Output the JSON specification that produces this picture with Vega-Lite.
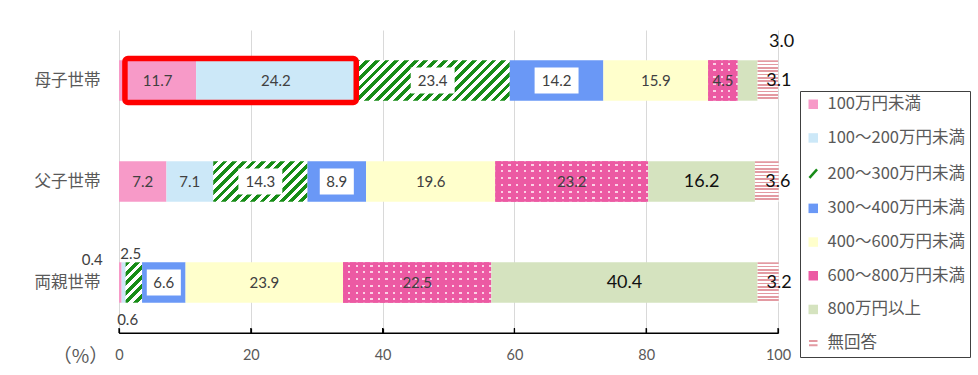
{
  "$schema": "https://vega.github.io/schema/vega-lite/v6.json",
  "width": 659,
  "height": 303,
  "autosize": "none",
  "padding": {"left": 119, "top": 30, "right": 200, "bottom": 42},
  "background": "white",
  "config": {
    "view": {"stroke": null},
    "font": "Noto Sans CJK JP"
  },
  "datasets": {
    "income": [
      {"row": "母子世帯", "cat": "100万円未満", "value": 11.7},
      {"row": "母子世帯", "cat": "100～200万円未満", "value": 24.2},
      {"row": "母子世帯", "cat": "200～300万円未満", "value": 23.4},
      {"row": "母子世帯", "cat": "300～400万円未満", "value": 14.2},
      {"row": "母子世帯", "cat": "400～600万円未満", "value": 15.9},
      {"row": "母子世帯", "cat": "600～800万円未満", "value": 4.5},
      {"row": "母子世帯", "cat": "800万円以上", "value": 3.0},
      {"row": "母子世帯", "cat": "無回答", "value": 3.1},
      {"row": "父子世帯", "cat": "100万円未満", "value": 7.2},
      {"row": "父子世帯", "cat": "100～200万円未満", "value": 7.1},
      {"row": "父子世帯", "cat": "200～300万円未満", "value": 14.3},
      {"row": "父子世帯", "cat": "300～400万円未満", "value": 8.9},
      {"row": "父子世帯", "cat": "400～600万円未満", "value": 19.6},
      {"row": "父子世帯", "cat": "600～800万円未満", "value": 23.2},
      {"row": "父子世帯", "cat": "800万円以上", "value": 16.2},
      {"row": "父子世帯", "cat": "無回答", "value": 3.6},
      {"row": "両親世帯", "cat": "100万円未満", "value": 0.4},
      {"row": "両親世帯", "cat": "100～200万円未満", "value": 0.6},
      {"row": "両親世帯", "cat": "200～300万円未満", "value": 2.5},
      {"row": "両親世帯", "cat": "300～400万円未満", "value": 6.6},
      {"row": "両親世帯", "cat": "400～600万円未満", "value": 23.9},
      {"row": "両親世帯", "cat": "600～800万円未満", "value": 22.5},
      {"row": "両親世帯", "cat": "800万円以上", "value": 40.4},
      {"row": "両親世帯", "cat": "無回答", "value": 3.2}
    ],
    "highlight": [
      {"row": "母子世帯", "from": 0.9, "to": 36.0}
    ],
    "baseline": [
      {"start": 0, "end": 100}
    ],
    "tickmarks": [
      {"t": 0}, {"t": 20}, {"t": 40}, {"t": 60}, {"t": 80}, {"t": 100}
    ]
  },
  "encoding": {
    "y": {
      "field": "row",
      "type": "nominal",
      "sort": ["母子世帯", "父子世帯", "両親世帯"],
      "scale": {"paddingInner": 0.6, "paddingOuter": 0.3},
      "axis": {
        "title": null,
        "domain": false,
        "ticks": false,
        "grid": false,
        "labelFont": "Noto Sans CJK JP",
        "labelFontSize": 16.5,
        "labelColor": "#595959",
        "labelPadding": 19
      }
    }
  },
  "layer": [
    {
      "data": {"name": "income"},
      "transform": [
        {"stack": "value", "groupby": ["row"], "as": ["x0", "x1"]},
        {"calculate": "(datum.x0 + datum.x1) / 2", "as": "mid"}
      ],
      "layer": [
        {
          "mark": {"type": "bar"},
          "encoding": {
            "x": {
              "field": "x0",
              "type": "quantitative",
              "scale": {"domain": [0, 100], "nice": false},
              "axis": {
                "values": [0, 20, 40, 60, 80, 100],
                "grid": true,
                "gridColor": "#d9d9d9",
                "gridWidth": 1,
                "domain": true,
                "domainColor": "#000000",
                "domainWidth": 1.2,
                "ticks": true,
                "tickColor": "#000000",
                "tickWidth": 1.2,
                "tickSize": -5,
                "labelFont": "Lato",
                "labelFontSize": 14.5,
                "labelColor": "#595959",
                "labelPadding": 20,
                "labelFlush": false,
                "title": "（%）",
                "titleFont": "Noto Sans CJK JP",
                "titleFontSize": 19,
                "titleFontWeight": "normal",
                "titleColor": "#595959",
                "titleX": -39,
                "titleY": 23,
                "titleAlign": "center",
                "titleBaseline": "middle",
                "titleAngle": 0
              }
            },
            "x2": {"field": "x1"},
            "fill": {
              "condition": [
                {
                  "test": "datum.cat === '200～300万円未満' && datum.row === '母子世帯'",
                  "value": {
                    "gradient": "linear", "x1": 0, "y1": 0, "x2": 1.1809, "y2": 0.3094,
                    "stops": [
                      {"offset": 0, "color": "#178c17"}, {"offset": 0.025, "color": "#178c17"}, {"offset": 0.025, "color": "#ffffff"}, {"offset": 0.05, "color": "#ffffff"},
                      {"offset": 0.05, "color": "#178c17"}, {"offset": 0.075, "color": "#178c17"}, {"offset": 0.075, "color": "#ffffff"}, {"offset": 0.1, "color": "#ffffff"},
                      {"offset": 0.1, "color": "#178c17"}, {"offset": 0.125, "color": "#178c17"}, {"offset": 0.125, "color": "#ffffff"}, {"offset": 0.15, "color": "#ffffff"},
                      {"offset": 0.15, "color": "#178c17"}, {"offset": 0.175, "color": "#178c17"}, {"offset": 0.175, "color": "#ffffff"}, {"offset": 0.2, "color": "#ffffff"},
                      {"offset": 0.2, "color": "#178c17"}, {"offset": 0.225, "color": "#178c17"}, {"offset": 0.225, "color": "#ffffff"}, {"offset": 0.25, "color": "#ffffff"},
                      {"offset": 0.25, "color": "#178c17"}, {"offset": 0.275, "color": "#178c17"}, {"offset": 0.275, "color": "#ffffff"}, {"offset": 0.3, "color": "#ffffff"},
                      {"offset": 0.3, "color": "#178c17"}, {"offset": 0.325, "color": "#178c17"}, {"offset": 0.325, "color": "#ffffff"}, {"offset": 0.35, "color": "#ffffff"},
                      {"offset": 0.35, "color": "#178c17"}, {"offset": 0.375, "color": "#178c17"}, {"offset": 0.375, "color": "#ffffff"}, {"offset": 0.4, "color": "#ffffff"},
                      {"offset": 0.4, "color": "#178c17"}, {"offset": 0.425, "color": "#178c17"}, {"offset": 0.425, "color": "#ffffff"}, {"offset": 0.45, "color": "#ffffff"},
                      {"offset": 0.45, "color": "#178c17"}, {"offset": 0.475, "color": "#178c17"}, {"offset": 0.475, "color": "#ffffff"}, {"offset": 0.5, "color": "#ffffff"},
                      {"offset": 0.5, "color": "#178c17"}, {"offset": 0.525, "color": "#178c17"}, {"offset": 0.525, "color": "#ffffff"}, {"offset": 0.55, "color": "#ffffff"},
                      {"offset": 0.55, "color": "#178c17"}, {"offset": 0.575, "color": "#178c17"}, {"offset": 0.575, "color": "#ffffff"}, {"offset": 0.6, "color": "#ffffff"},
                      {"offset": 0.6, "color": "#178c17"}, {"offset": 0.625, "color": "#178c17"}, {"offset": 0.625, "color": "#ffffff"}, {"offset": 0.65, "color": "#ffffff"},
                      {"offset": 0.65, "color": "#178c17"}, {"offset": 0.675, "color": "#178c17"}, {"offset": 0.675, "color": "#ffffff"}, {"offset": 0.7, "color": "#ffffff"},
                      {"offset": 0.7, "color": "#178c17"}, {"offset": 0.725, "color": "#178c17"}, {"offset": 0.725, "color": "#ffffff"}, {"offset": 0.75, "color": "#ffffff"},
                      {"offset": 0.75, "color": "#178c17"}, {"offset": 0.775, "color": "#178c17"}, {"offset": 0.775, "color": "#ffffff"}, {"offset": 0.8, "color": "#ffffff"},
                      {"offset": 0.8, "color": "#178c17"}, {"offset": 0.825, "color": "#178c17"}, {"offset": 0.825, "color": "#ffffff"}, {"offset": 0.85, "color": "#ffffff"},
                      {"offset": 0.85, "color": "#178c17"}, {"offset": 0.875, "color": "#178c17"}, {"offset": 0.875, "color": "#ffffff"}, {"offset": 0.9, "color": "#ffffff"},
                      {"offset": 0.9, "color": "#178c17"}, {"offset": 0.925, "color": "#178c17"}, {"offset": 0.925, "color": "#ffffff"}, {"offset": 0.95, "color": "#ffffff"},
                      {"offset": 0.95, "color": "#178c17"}, {"offset": 0.975, "color": "#178c17"}, {"offset": 0.975, "color": "#ffffff"}, {"offset": 1, "color": "#ffffff"}
                    ]
                  }
                },
                {
                  "test": "datum.cat === '200～300万円未満' && datum.row === '父子世帯'",
                  "value": {
                    "gradient": "linear", "x1": 0, "y1": 0, "x2": 1.2069, "y2": 0.5174,
                    "stops": [
                      {"offset": 0, "color": "#178c17"}, {"offset": 0.0357, "color": "#178c17"}, {"offset": 0.0357, "color": "#ffffff"}, {"offset": 0.0714, "color": "#ffffff"},
                      {"offset": 0.0714, "color": "#178c17"}, {"offset": 0.1071, "color": "#178c17"}, {"offset": 0.1071, "color": "#ffffff"}, {"offset": 0.1429, "color": "#ffffff"},
                      {"offset": 0.1429, "color": "#178c17"}, {"offset": 0.1786, "color": "#178c17"}, {"offset": 0.1786, "color": "#ffffff"}, {"offset": 0.2143, "color": "#ffffff"},
                      {"offset": 0.2143, "color": "#178c17"}, {"offset": 0.25, "color": "#178c17"}, {"offset": 0.25, "color": "#ffffff"}, {"offset": 0.2857, "color": "#ffffff"},
                      {"offset": 0.2857, "color": "#178c17"}, {"offset": 0.3214, "color": "#178c17"}, {"offset": 0.3214, "color": "#ffffff"}, {"offset": 0.3571, "color": "#ffffff"},
                      {"offset": 0.3571, "color": "#178c17"}, {"offset": 0.3929, "color": "#178c17"}, {"offset": 0.3929, "color": "#ffffff"}, {"offset": 0.4286, "color": "#ffffff"},
                      {"offset": 0.4286, "color": "#178c17"}, {"offset": 0.4643, "color": "#178c17"}, {"offset": 0.4643, "color": "#ffffff"}, {"offset": 0.5, "color": "#ffffff"},
                      {"offset": 0.5, "color": "#178c17"}, {"offset": 0.5357, "color": "#178c17"}, {"offset": 0.5357, "color": "#ffffff"}, {"offset": 0.5714, "color": "#ffffff"},
                      {"offset": 0.5714, "color": "#178c17"}, {"offset": 0.6071, "color": "#178c17"}, {"offset": 0.6071, "color": "#ffffff"}, {"offset": 0.6429, "color": "#ffffff"},
                      {"offset": 0.6429, "color": "#178c17"}, {"offset": 0.6786, "color": "#178c17"}, {"offset": 0.6786, "color": "#ffffff"}, {"offset": 0.7143, "color": "#ffffff"},
                      {"offset": 0.7143, "color": "#178c17"}, {"offset": 0.75, "color": "#178c17"}, {"offset": 0.75, "color": "#ffffff"}, {"offset": 0.7857, "color": "#ffffff"},
                      {"offset": 0.7857, "color": "#178c17"}, {"offset": 0.8214, "color": "#178c17"}, {"offset": 0.8214, "color": "#ffffff"}, {"offset": 0.8571, "color": "#ffffff"},
                      {"offset": 0.8571, "color": "#178c17"}, {"offset": 0.8929, "color": "#178c17"}, {"offset": 0.8929, "color": "#ffffff"}, {"offset": 0.9286, "color": "#ffffff"},
                      {"offset": 0.9286, "color": "#178c17"}, {"offset": 0.9643, "color": "#178c17"}, {"offset": 0.9643, "color": "#ffffff"}, {"offset": 1, "color": "#ffffff"}
                    ]
                  }
                },
                {
                  "test": "datum.cat === '200～300万円未満'",
                  "value": {
                    "gradient": "linear", "x1": 0, "y1": 0, "x2": 0.4924, "y2": 1.2071,
                    "stops": [
                      {"offset": 0, "color": "#178c17"}, {"offset": 0.0833, "color": "#178c17"}, {"offset": 0.0833, "color": "#ffffff"}, {"offset": 0.1667, "color": "#ffffff"},
                      {"offset": 0.1667, "color": "#178c17"}, {"offset": 0.25, "color": "#178c17"}, {"offset": 0.25, "color": "#ffffff"}, {"offset": 0.3333, "color": "#ffffff"},
                      {"offset": 0.3333, "color": "#178c17"}, {"offset": 0.4167, "color": "#178c17"}, {"offset": 0.4167, "color": "#ffffff"}, {"offset": 0.5, "color": "#ffffff"},
                      {"offset": 0.5, "color": "#178c17"}, {"offset": 0.5833, "color": "#178c17"}, {"offset": 0.5833, "color": "#ffffff"}, {"offset": 0.6667, "color": "#ffffff"},
                      {"offset": 0.6667, "color": "#178c17"}, {"offset": 0.75, "color": "#178c17"}, {"offset": 0.75, "color": "#ffffff"}, {"offset": 0.8333, "color": "#ffffff"},
                      {"offset": 0.8333, "color": "#178c17"}, {"offset": 0.9167, "color": "#178c17"}, {"offset": 0.9167, "color": "#ffffff"}, {"offset": 1, "color": "#ffffff"}
                    ]
                  }
                },
                {
                  "test": "datum.cat === '無回答'",
                  "value": {
                    "gradient": "linear", "x1": 0, "y1": 0, "x2": 0, "y2": 1,
                    "stops": [
                      {"offset": 0, "color": "#e39aa2"}, {"offset": 0.0417, "color": "#e39aa2"}, {"offset": 0.0417, "color": "#ffffff"}, {"offset": 0.0833, "color": "#ffffff"},
                      {"offset": 0.0833, "color": "#e39aa2"}, {"offset": 0.125, "color": "#e39aa2"}, {"offset": 0.125, "color": "#ffffff"}, {"offset": 0.1667, "color": "#ffffff"},
                      {"offset": 0.1667, "color": "#e39aa2"}, {"offset": 0.2083, "color": "#e39aa2"}, {"offset": 0.2083, "color": "#ffffff"}, {"offset": 0.25, "color": "#ffffff"},
                      {"offset": 0.25, "color": "#e39aa2"}, {"offset": 0.2917, "color": "#e39aa2"}, {"offset": 0.2917, "color": "#ffffff"}, {"offset": 0.3333, "color": "#ffffff"},
                      {"offset": 0.3333, "color": "#e39aa2"}, {"offset": 0.375, "color": "#e39aa2"}, {"offset": 0.375, "color": "#ffffff"}, {"offset": 0.4167, "color": "#ffffff"},
                      {"offset": 0.4167, "color": "#e39aa2"}, {"offset": 0.4583, "color": "#e39aa2"}, {"offset": 0.4583, "color": "#ffffff"}, {"offset": 0.5, "color": "#ffffff"},
                      {"offset": 0.5, "color": "#e39aa2"}, {"offset": 0.5417, "color": "#e39aa2"}, {"offset": 0.5417, "color": "#ffffff"}, {"offset": 0.5833, "color": "#ffffff"},
                      {"offset": 0.5833, "color": "#e39aa2"}, {"offset": 0.625, "color": "#e39aa2"}, {"offset": 0.625, "color": "#ffffff"}, {"offset": 0.6667, "color": "#ffffff"},
                      {"offset": 0.6667, "color": "#e39aa2"}, {"offset": 0.7083, "color": "#e39aa2"}, {"offset": 0.7083, "color": "#ffffff"}, {"offset": 0.75, "color": "#ffffff"},
                      {"offset": 0.75, "color": "#e39aa2"}, {"offset": 0.7917, "color": "#e39aa2"}, {"offset": 0.7917, "color": "#ffffff"}, {"offset": 0.8333, "color": "#ffffff"},
                      {"offset": 0.8333, "color": "#e39aa2"}, {"offset": 0.875, "color": "#e39aa2"}, {"offset": 0.875, "color": "#ffffff"}, {"offset": 0.9167, "color": "#ffffff"},
                      {"offset": 0.9167, "color": "#e39aa2"}, {"offset": 0.9583, "color": "#e39aa2"}, {"offset": 0.9583, "color": "#ffffff"}, {"offset": 1, "color": "#ffffff"}
                    ]
                  }
                },
                {
                  "test": "datum.cat === '600～800万円未満'",
                  "value": {
                    "gradient": "linear", "x1": 0, "y1": 0, "x2": 0, "y2": 1,
                    "stops": [
                      {"offset": 0, "color": "#ec5aa3"}, {"offset": 0.06, "color": "#ec5aa3"}, {"offset": 0.06, "color": "#fbd0e5"}, {"offset": 0.11, "color": "#fbd0e5"},
                      {"offset": 0.11, "color": "#ec5aa3"}, {"offset": 0.2267, "color": "#ec5aa3"}, {"offset": 0.2267, "color": "#fbd0e5"}, {"offset": 0.2767, "color": "#fbd0e5"},
                      {"offset": 0.2767, "color": "#ec5aa3"}, {"offset": 0.3933, "color": "#ec5aa3"}, {"offset": 0.3933, "color": "#fbd0e5"}, {"offset": 0.4433, "color": "#fbd0e5"},
                      {"offset": 0.4433, "color": "#ec5aa3"}, {"offset": 0.56, "color": "#ec5aa3"}, {"offset": 0.56, "color": "#fbd0e5"}, {"offset": 0.61, "color": "#fbd0e5"},
                      {"offset": 0.61, "color": "#ec5aa3"}, {"offset": 0.7267, "color": "#ec5aa3"}, {"offset": 0.7267, "color": "#fbd0e5"}, {"offset": 0.7767, "color": "#fbd0e5"},
                      {"offset": 0.7767, "color": "#ec5aa3"}, {"offset": 0.8933, "color": "#ec5aa3"}, {"offset": 0.8933, "color": "#fbd0e5"}, {"offset": 0.9433, "color": "#fbd0e5"},
                      {"offset": 0.9433, "color": "#ec5aa3"}, {"offset": 1, "color": "#ec5aa3"}
                    ]
                  }
                }
              ],
              "field": "cat",
              "type": "nominal",
              "scale": {
                "domain": ["100万円未満", "100～200万円未満", "200～300万円未満", "300～400万円未満", "400～600万円未満", "600～800万円未満", "800万円以上", "無回答"],
                "range": ["#f79ac8", "#cce8f8", "#178c17", "#6a98f6", "#ffffcc", "#ec5aa3", "#d5e3bf", "#e39aa2"]
              },
              "legend": {
                "orient": "none",
                "legendX": 681,
                "legendY": 61,
                "title": null,
                "strokeColor": "#404040",
                "fillColor": "#ffffff",
                "padding": 5,
                "rowPadding": 16.7,
                "symbolType": "square",
                "symbolSize": 90,
                "labelOffset": 6,
                "labelFont": "Noto Sans CJK JP",
                "labelFontSize": 16.5,
                "labelColor": "#595959",
                "labelLimit": 200,
                "encode": {
                  "symbols": {
                    "update": {
                      "shape": {"signal": "datum.value === '200～300万円未満' ? 'M-0.8,0.9L0.8,-0.9' : datum.value === '無回答' ? 'M-0.9,-0.45H0.9M-0.9,0.45H0.9' : 'square'"},
                      "stroke": {"signal": "datum.value === '200～300万円未満' ? '#178c17' : datum.value === '無回答' ? '#e39aa2' : null"},
                      "strokeWidth": {"signal": "datum.value === '200～300万円未満' ? 2.5 : 2"},
                      "fill": {"signal": "datum.value === '200～300万円未満' || datum.value === '無回答' ? 'transparent' : scale('fill', datum.value)"}
                    }
                  }
                }
              }
            }
          }
        },
        {
          "transform": [{"filter": "datum.cat === '600～800万円未満'"}],
          "mark": {"type": "bar"},
          "encoding": {
            "x": {"field": "x0", "type": "quantitative", "scale": {"domain": [0, 100], "nice": false}},
            "x2": {"field": "x1"},
            "fill": {
              "condition": {
                "test": "datum.row === '母子世帯'",
                "value": {
                  "gradient": "linear", "x1": 0, "y1": 0, "x2": 1, "y2": 0,
                  "stops": [
                    {"offset": 0, "color": "#ec5aa3"}, {"offset": 0.18, "color": "#ec5aa3"}, {"offset": 0.18, "color": "rgba(236,90,163,0)"}, {"offset": 0.25, "color": "rgba(236,90,163,0)"},
                    {"offset": 0.25, "color": "#ec5aa3"}, {"offset": 0.43, "color": "#ec5aa3"}, {"offset": 0.43, "color": "rgba(236,90,163,0)"}, {"offset": 0.5, "color": "rgba(236,90,163,0)"},
                    {"offset": 0.5, "color": "#ec5aa3"}, {"offset": 0.68, "color": "#ec5aa3"}, {"offset": 0.68, "color": "rgba(236,90,163,0)"}, {"offset": 0.75, "color": "rgba(236,90,163,0)"},
                    {"offset": 0.75, "color": "#ec5aa3"}, {"offset": 0.93, "color": "#ec5aa3"}, {"offset": 0.93, "color": "rgba(236,90,163,0)"}, {"offset": 1, "color": "rgba(236,90,163,0)"}
                  ]
                }
              },
              "value": {
                "gradient": "linear", "x1": 0, "y1": 0, "x2": 1, "y2": 0,
                "stops": [
                  {"offset": 0, "color": "#ec5aa3"}, {"offset": 0.035, "color": "#ec5aa3"}, {"offset": 0.035, "color": "rgba(236,90,163,0)"}, {"offset": 0.05, "color": "rgba(236,90,163,0)"},
                  {"offset": 0.05, "color": "#ec5aa3"}, {"offset": 0.085, "color": "#ec5aa3"}, {"offset": 0.085, "color": "rgba(236,90,163,0)"}, {"offset": 0.1, "color": "rgba(236,90,163,0)"},
                  {"offset": 0.1, "color": "#ec5aa3"}, {"offset": 0.135, "color": "#ec5aa3"}, {"offset": 0.135, "color": "rgba(236,90,163,0)"}, {"offset": 0.15, "color": "rgba(236,90,163,0)"},
                  {"offset": 0.15, "color": "#ec5aa3"}, {"offset": 0.185, "color": "#ec5aa3"}, {"offset": 0.185, "color": "rgba(236,90,163,0)"}, {"offset": 0.2, "color": "rgba(236,90,163,0)"},
                  {"offset": 0.2, "color": "#ec5aa3"}, {"offset": 0.235, "color": "#ec5aa3"}, {"offset": 0.235, "color": "rgba(236,90,163,0)"}, {"offset": 0.25, "color": "rgba(236,90,163,0)"},
                  {"offset": 0.25, "color": "#ec5aa3"}, {"offset": 0.285, "color": "#ec5aa3"}, {"offset": 0.285, "color": "rgba(236,90,163,0)"}, {"offset": 0.3, "color": "rgba(236,90,163,0)"},
                  {"offset": 0.3, "color": "#ec5aa3"}, {"offset": 0.335, "color": "#ec5aa3"}, {"offset": 0.335, "color": "rgba(236,90,163,0)"}, {"offset": 0.35, "color": "rgba(236,90,163,0)"},
                  {"offset": 0.35, "color": "#ec5aa3"}, {"offset": 0.385, "color": "#ec5aa3"}, {"offset": 0.385, "color": "rgba(236,90,163,0)"}, {"offset": 0.4, "color": "rgba(236,90,163,0)"},
                  {"offset": 0.4, "color": "#ec5aa3"}, {"offset": 0.435, "color": "#ec5aa3"}, {"offset": 0.435, "color": "rgba(236,90,163,0)"}, {"offset": 0.45, "color": "rgba(236,90,163,0)"},
                  {"offset": 0.45, "color": "#ec5aa3"}, {"offset": 0.485, "color": "#ec5aa3"}, {"offset": 0.485, "color": "rgba(236,90,163,0)"}, {"offset": 0.5, "color": "rgba(236,90,163,0)"},
                  {"offset": 0.5, "color": "#ec5aa3"}, {"offset": 0.535, "color": "#ec5aa3"}, {"offset": 0.535, "color": "rgba(236,90,163,0)"}, {"offset": 0.55, "color": "rgba(236,90,163,0)"},
                  {"offset": 0.55, "color": "#ec5aa3"}, {"offset": 0.585, "color": "#ec5aa3"}, {"offset": 0.585, "color": "rgba(236,90,163,0)"}, {"offset": 0.6, "color": "rgba(236,90,163,0)"},
                  {"offset": 0.6, "color": "#ec5aa3"}, {"offset": 0.635, "color": "#ec5aa3"}, {"offset": 0.635, "color": "rgba(236,90,163,0)"}, {"offset": 0.65, "color": "rgba(236,90,163,0)"},
                  {"offset": 0.65, "color": "#ec5aa3"}, {"offset": 0.685, "color": "#ec5aa3"}, {"offset": 0.685, "color": "rgba(236,90,163,0)"}, {"offset": 0.7, "color": "rgba(236,90,163,0)"},
                  {"offset": 0.7, "color": "#ec5aa3"}, {"offset": 0.735, "color": "#ec5aa3"}, {"offset": 0.735, "color": "rgba(236,90,163,0)"}, {"offset": 0.75, "color": "rgba(236,90,163,0)"},
                  {"offset": 0.75, "color": "#ec5aa3"}, {"offset": 0.785, "color": "#ec5aa3"}, {"offset": 0.785, "color": "rgba(236,90,163,0)"}, {"offset": 0.8, "color": "rgba(236,90,163,0)"},
                  {"offset": 0.8, "color": "#ec5aa3"}, {"offset": 0.835, "color": "#ec5aa3"}, {"offset": 0.835, "color": "rgba(236,90,163,0)"}, {"offset": 0.85, "color": "rgba(236,90,163,0)"},
                  {"offset": 0.85, "color": "#ec5aa3"}, {"offset": 0.885, "color": "#ec5aa3"}, {"offset": 0.885, "color": "rgba(236,90,163,0)"}, {"offset": 0.9, "color": "rgba(236,90,163,0)"},
                  {"offset": 0.9, "color": "#ec5aa3"}, {"offset": 0.935, "color": "#ec5aa3"}, {"offset": 0.935, "color": "rgba(236,90,163,0)"}, {"offset": 0.95, "color": "rgba(236,90,163,0)"},
                  {"offset": 0.95, "color": "#ec5aa3"}, {"offset": 0.985, "color": "#ec5aa3"}, {"offset": 0.985, "color": "rgba(236,90,163,0)"}, {"offset": 1, "color": "rgba(236,90,163,0)"}
                ]
              }
            }
          }
        },
        {
          "transform": [{"filter": "(datum.cat === '200～300万円未満' || datum.cat === '300～400万円未満') && datum.value >= 5"}],
          "mark": {"type": "point", "filled": true, "color": "#ffffff", "opacity": 1, "size": 676, "strokeWidth": 0},
          "encoding": {
            "x": {"field": "mid", "type": "quantitative", "scale": {"domain": [0, 100], "nice": false}},
            "shape": {
              "condition": {"test": "datum.value >= 10", "value": "M-1.69,-1H1.69V1H-1.69Z"},
              "value": "M-1.31,-1H1.31V1H-1.31Z"
            }
          }
        },
        {
          "transform": [{"filter": "datum.cat !== '800万円以上' && datum.cat !== '無回答' && !(datum.row === '両親世帯' && datum.value < 3)"}],
          "mark": {"type": "text", "font": "Lato", "fontSize": 15, "fill": "#404040"},
          "encoding": {
            "x": {"field": "mid", "type": "quantitative", "scale": {"domain": [0, 100], "nice": false}},
            "text": {"field": "value", "type": "quantitative", "format": ".1f"}
          }
        },
        {
          "transform": [{"filter": "datum.cat === '800万円以上' && datum.row !== '母子世帯'"}],
          "mark": {"type": "text", "font": "Lato", "fontSize": 18, "fill": "#111111"},
          "encoding": {
            "x": {"field": "mid", "type": "quantitative", "scale": {"domain": [0, 100], "nice": false}},
            "text": {"field": "value", "type": "quantitative", "format": ".1f"}
          }
        },
        {
          "transform": [{"filter": "datum.cat === '無回答'"}],
          "mark": {"type": "text", "font": "Lato", "fontSize": 18, "fill": "#111111", "dx": 11},
          "encoding": {
            "x": {"field": "mid", "type": "quantitative", "scale": {"domain": [0, 100], "nice": false}},
            "text": {"field": "value", "type": "quantitative", "format": ".1f"}
          }
        },
        {
          "transform": [{"filter": "datum.cat === '800万円以上' && datum.row === '母子世帯'"}],
          "mark": {"type": "text", "font": "Lato", "fontSize": 18, "fill": "#111111", "dx": 34, "dy": -39},
          "encoding": {
            "x": {"field": "mid", "type": "quantitative", "scale": {"domain": [0, 100], "nice": false}},
            "text": {"field": "value", "type": "quantitative", "format": ".1f"}
          }
        },
        {
          "transform": [{"filter": "datum.row === '両親世帯' && datum.cat === '100万円未満'"}],
          "mark": {"type": "text", "font": "Lato", "fontSize": 15, "fill": "#404040", "dx": -28, "dy": -23},
          "encoding": {
            "x": {"field": "mid", "type": "quantitative", "scale": {"domain": [0, 100], "nice": false}},
            "text": {"field": "value", "type": "quantitative", "format": ".1f"}
          }
        },
        {
          "transform": [{"filter": "datum.row === '両親世帯' && datum.cat === '100～200万円未満'"}],
          "mark": {"type": "text", "font": "Lato", "fontSize": 15, "fill": "#404040", "dx": 4, "dy": 37},
          "encoding": {
            "x": {"field": "mid", "type": "quantitative", "scale": {"domain": [0, 100], "nice": false}},
            "text": {"field": "value", "type": "quantitative", "format": ".1f"}
          }
        },
        {
          "transform": [{"filter": "datum.row === '両親世帯' && datum.cat === '200～300万円未満'"}],
          "mark": {"type": "text", "font": "Lato", "fontSize": 15, "fill": "#404040", "dx": -3, "dy": -29},
          "encoding": {
            "x": {"field": "mid", "type": "quantitative", "scale": {"domain": [0, 100], "nice": false}},
            "text": {"field": "value", "type": "quantitative", "format": ".1f"}
          }
        }
      ]
    },
    {
      "data": {"name": "baseline"},
      "mark": {"type": "rule", "color": "#000000", "strokeWidth": 1.2},
      "encoding": {
        "x": {"field": "start", "type": "quantitative", "scale": {"domain": [0, 100], "nice": false}},
        "x2": {"field": "end"},
        "y": {"datum": "両親世帯", "type": "nominal", "bandPosition": 1.75}
      }
    },
    {
      "data": {"name": "tickmarks"},
      "mark": {"type": "rule", "color": "#000000", "strokeWidth": 1.2},
      "encoding": {
        "x": {"field": "t", "type": "quantitative", "scale": {"domain": [0, 100], "nice": false}},
        "y": {"datum": "両親世帯", "type": "nominal", "bandPosition": 1.626},
        "y2": {"datum": "両親世帯", "bandPosition": 1.75}
      }
    },
    {
      "data": {"name": "highlight"},
      "mark": {"type": "bar", "filled": false, "color": "#ff0000", "stroke": "#ff0000", "strokeWidth": 5.5, "cornerRadius": 3, "height": {"band": 1.09}},
      "encoding": {
        "x": {"field": "from", "type": "quantitative", "scale": {"domain": [0, 100], "nice": false}},
        "x2": {"field": "to"}
      }
    }
  ]
}
